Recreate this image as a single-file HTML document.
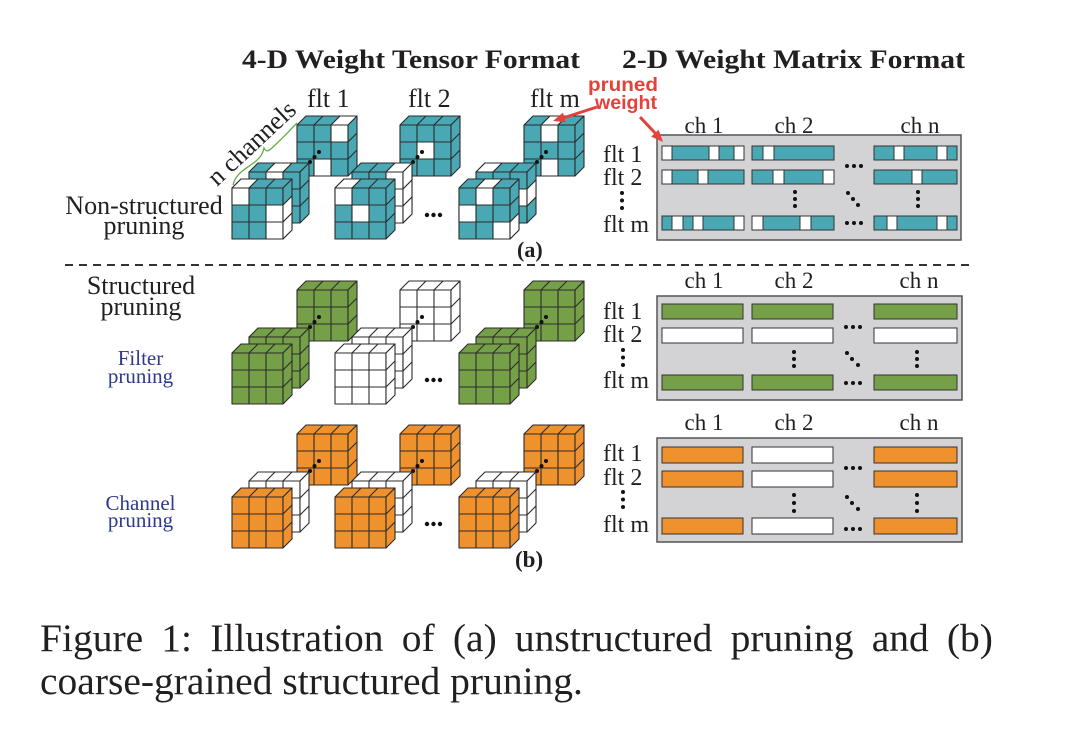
<!DOCTYPE html>
<html><head><meta charset="utf-8"><style>
body{margin:0;background:#fff}
svg{display:block}
.w rect,.w polygon{fill:#fff;stroke:#2b2b2b;stroke-width:1.1;stroke-linejoin:round}
.bar{stroke:#333;stroke-width:1}
.t{fill:#231f20}
</style></head><body>
<svg width="1072" height="734" viewBox="0 0 1072 734" xmlns="http://www.w3.org/2000/svg" font-family="'Liberation Serif', 'Times New Roman', serif">
<defs>
<g id="cb" stroke="#2b2b2b" stroke-width="1.1" stroke-linejoin="round">
<rect x="0" y="0" width="51" height="51"/>
<polygon points="0,0 51,0 60,-9 9,-9"/>
<polygon points="51,0 60,-9 60,42 51,51"/>
<path d="M17,0V51M34,0V51M0,17H51M0,34H51M17,0L26,-9M34,0L43,-9M51,17L60,8M51,34L60,25" fill="none"/>
</g>
</defs>

<!-- Titles -->
<text x="242" y="68" font-weight="bold" font-size="26" textLength="338" lengthAdjust="spacingAndGlyphs" class="t">4-D Weight Tensor Format</text>
<text x="622" y="68" font-weight="bold" font-size="26" textLength="343" lengthAdjust="spacingAndGlyphs" class="t">2-D Weight Matrix Format</text>

<!-- cube labels -->
<text x="307" y="107" font-size="26" class="t">flt 1</text>
<text x="408" y="107" font-size="26" class="t">flt 2</text>
<text x="530" y="107" font-size="26" class="t">flt m</text>

<!-- n channels -->
<text transform="translate(217,187) rotate(-43)" font-size="26" class="t">n channels</text>
<path d="M233,185 C236,172 248,168 256,161 C261,157 263,153 264,148 C266,152 268,152 273,147 C282,139 290,130 297,123" fill="none" stroke="#5fae45" stroke-width="1.3"/>

<!-- left labels -->
<text x="144" y="214" font-size="26" text-anchor="middle" class="t">Non-structured</text>
<text x="144" y="234" font-size="26" text-anchor="middle" class="t">pruning</text>
<text x="141" y="294" font-size="26" text-anchor="middle" class="t">Structured</text>
<text x="141" y="315" font-size="26" text-anchor="middle" class="t">pruning</text>
<text x="140.5" y="365" font-size="21" text-anchor="middle" fill="#2e3a8a">Filter</text>
<text x="140.5" y="383" font-size="21" text-anchor="middle" fill="#2e3a8a">pruning</text>
<text x="140.5" y="510" font-size="21" text-anchor="middle" fill="#2e3a8a">Channel</text>
<text x="140.5" y="527" font-size="21" text-anchor="middle" fill="#2e3a8a">pruning</text>

<!-- ===== (a) cubes ===== -->
<!-- flt1 -->
<use href="#cb" x="297" y="125" fill="#4aa8b4"/>
<g class="w" transform="translate(297,125)"><rect x="34" y="0" width="17" height="17"/><rect x="17" y="34" width="17" height="17"/><polygon points="34,0 51,0 60,-9 43,-9"/></g>
<g fill="#111"><circle cx="310" cy="162" r="2"/><circle cx="314.5" cy="157" r="2"/><circle cx="319" cy="152" r="2"/></g>
<use href="#cb" x="249" y="172" fill="#4aa8b4"/>
<g class="w" transform="translate(249,172)"><rect x="17" y="0" width="17" height="17"/><polygon points="17,0 34,0 43,-9 26,-9"/></g>
<use href="#cb" x="232" y="188" fill="#4aa8b4"/>
<g class="w" transform="translate(232,188)"><rect x="0" y="0" width="17" height="17"/><rect x="34" y="17" width="17" height="17"/><rect x="34" y="34" width="17" height="17"/><polygon points="0,0 17,0 26,-9 9,-9"/><polygon points="51,17 60,8 60,25 51,34"/><polygon points="51,34 60,25 60,42 51,51"/></g>

<!-- flt2 -->
<use href="#cb" x="400" y="125" fill="#4aa8b4"/>
<g class="w" transform="translate(400,125)"><rect x="17" y="17" width="17" height="17"/></g>
<g fill="#111"><circle cx="413" cy="162" r="2"/><circle cx="417.5" cy="157" r="2"/><circle cx="422" cy="152" r="2"/></g>
<use href="#cb" x="352" y="172" fill="#4aa8b4"/>
<g class="w" transform="translate(352,172)"><rect x="34" y="0" width="17" height="17"/><rect x="34" y="17" width="17" height="17"/><rect x="34" y="34" width="17" height="17"/><polygon points="34,0 51,0 60,-9 43,-9"/><polygon points="51,0 60,-9 60,8 51,17"/><polygon points="51,17 60,8 60,25 51,34"/><polygon points="51,34 60,25 60,42 51,51"/></g>
<use href="#cb" x="335" y="188" fill="#4aa8b4"/>
<g class="w" transform="translate(335,188)"><rect x="0" y="0" width="17" height="17"/><rect x="17" y="17" width="17" height="17"/><polygon points="0,0 17,0 26,-9 9,-9"/></g>

<!-- fltm -->
<use href="#cb" x="524" y="125" fill="#4aa8b4"/>
<g class="w" transform="translate(524,125)"><rect x="17" y="0" width="17" height="17"/><rect x="17" y="34" width="17" height="17"/><polygon points="17,0 34,0 43,-9 26,-9"/></g>
<g fill="#111"><circle cx="537" cy="162" r="2"/><circle cx="541.5" cy="157" r="2"/><circle cx="546" cy="152" r="2"/></g>
<use href="#cb" x="476" y="172" fill="#4aa8b4"/>
<g class="w" transform="translate(476,172)"><rect x="34" y="17" width="17" height="17"/><polygon points="0,0 17,0 26,-9 9,-9"/><polygon points="51,17 60,8 60,25 51,34"/></g>
<use href="#cb" x="459" y="188" fill="#4aa8b4"/>
<g class="w" transform="translate(459,188)"><rect x="17" y="0" width="17" height="17"/><rect x="0" y="17" width="17" height="17"/><rect x="34" y="34" width="17" height="17"/><polygon points="17,0 34,0 43,-9 26,-9"/><polygon points="51,34 60,25 60,42 51,51"/></g>

<g fill="#111"><circle cx="427" cy="215" r="2.2"/><circle cx="433.5" cy="215" r="2.2"/><circle cx="440" cy="215" r="2.2"/></g>

<!-- ===== green cubes ===== -->
<use href="#cb" x="297" y="290" fill="#76a048"/>
<g fill="#111"><circle cx="310" cy="327" r="2"/><circle cx="314.5" cy="322" r="2"/><circle cx="319" cy="317" r="2"/></g>
<use href="#cb" x="249" y="337" fill="#76a048"/>
<use href="#cb" x="232" y="353" fill="#76a048"/>

<use href="#cb" x="400" y="290" fill="#fff"/>
<g fill="#111"><circle cx="413" cy="327" r="2"/><circle cx="417.5" cy="322" r="2"/><circle cx="422" cy="317" r="2"/></g>
<use href="#cb" x="352" y="337" fill="#fff"/>
<use href="#cb" x="335" y="353" fill="#fff"/>

<use href="#cb" x="524" y="290" fill="#76a048"/>
<g fill="#111"><circle cx="537" cy="327" r="2"/><circle cx="541.5" cy="322" r="2"/><circle cx="546" cy="317" r="2"/></g>
<use href="#cb" x="476" y="337" fill="#76a048"/>
<use href="#cb" x="459" y="353" fill="#76a048"/>

<g fill="#111"><circle cx="427" cy="380" r="2.2"/><circle cx="433.5" cy="380" r="2.2"/><circle cx="440" cy="380" r="2.2"/></g>

<!-- ===== orange cubes ===== -->
<use href="#cb" x="297" y="434" fill="#ef922e"/>
<g fill="#111"><circle cx="310" cy="471" r="2"/><circle cx="314.5" cy="466" r="2"/><circle cx="319" cy="461" r="2"/></g>
<use href="#cb" x="249" y="481" fill="#fff"/>
<use href="#cb" x="232" y="497" fill="#ef922e"/>

<use href="#cb" x="400" y="434" fill="#ef922e"/>
<g fill="#111"><circle cx="413" cy="471" r="2"/><circle cx="417.5" cy="466" r="2"/><circle cx="422" cy="461" r="2"/></g>
<use href="#cb" x="352" y="481" fill="#fff"/>
<use href="#cb" x="335" y="497" fill="#ef922e"/>

<use href="#cb" x="524" y="434" fill="#ef922e"/>
<g fill="#111"><circle cx="537" cy="471" r="2"/><circle cx="541.5" cy="466" r="2"/><circle cx="546" cy="461" r="2"/></g>
<use href="#cb" x="476" y="481" fill="#fff"/>
<use href="#cb" x="459" y="497" fill="#ef922e"/>

<g fill="#111"><circle cx="427" cy="524" r="2.2"/><circle cx="433.5" cy="524" r="2.2"/><circle cx="440" cy="524" r="2.2"/></g>

<!-- (a) (b) labels -->
<text x="517" y="257" font-weight="bold" font-size="22" class="t">(a)</text>
<text x="515" y="567" font-weight="bold" font-size="23" class="t">(b)</text>

<!-- dashed line -->
<line x1="65" y1="265" x2="975" y2="265" stroke="#333" stroke-width="2" stroke-dasharray="8,6"/>

<!-- ===== Matrix (a) ===== -->
<text x="704" y="133" font-size="23" text-anchor="middle" class="t">ch 1</text>
<text x="794" y="133" font-size="23" text-anchor="middle" class="t">ch 2</text>
<text x="920" y="133" font-size="23" text-anchor="middle" class="t">ch n</text>
<text x="603" y="162" font-size="24" class="t">flt 1</text>
<text x="603" y="185" font-size="24" class="t">flt 2</text>
<text x="603" y="232" font-size="24" class="t">flt m</text>
<rect x="657" y="135" width="304" height="105" fill="#d3d3d5" stroke="#555" stroke-width="1.5"/>
<g class="bar" fill="#4aa8b4">
<rect x="662" y="146" width="82" height="14"/><rect x="752" y="146" width="82" height="14"/><rect x="874" y="146" width="83" height="14"/>
<rect x="662" y="170" width="82" height="14"/><rect x="752" y="170" width="82" height="14"/><rect x="874" y="170" width="83" height="14"/>
<rect x="662" y="216" width="82" height="14"/><rect x="752" y="216" width="82" height="14"/><rect x="874" y="216" width="83" height="14"/>
</g>
<g class="bar" fill="#fff">
<rect x="662" y="146" width="10" height="14"/><rect x="709" y="146" width="10" height="14"/><rect x="734" y="146" width="10" height="14"/>
<rect x="763" y="146" width="11" height="14"/>
<rect x="894" y="146" width="10" height="14"/><rect x="937" y="146" width="10" height="14"/>
<rect x="662" y="170" width="10" height="14"/><rect x="698" y="170" width="10" height="14"/>
<rect x="773" y="170" width="11" height="14"/><rect x="823" y="170" width="11" height="14"/>
<rect x="912" y="170" width="10" height="14"/>
<rect x="672" y="216" width="11" height="14"/><rect x="693" y="216" width="10" height="14"/><rect x="734" y="216" width="10" height="14"/>
<rect x="752" y="216" width="11" height="14"/><rect x="800" y="216" width="11" height="14"/>
<rect x="887" y="216" width="10" height="14"/><rect x="937" y="216" width="10" height="14"/>
</g>
<g fill="#111">
<circle cx="847" cy="166" r="2"/><circle cx="854" cy="166" r="2"/><circle cx="861" cy="166" r="2"/>
<circle cx="847" cy="223" r="2"/><circle cx="854" cy="223" r="2"/><circle cx="861" cy="223" r="2"/>
<circle cx="795" cy="192" r="2"/><circle cx="795" cy="199" r="2"/><circle cx="795" cy="206" r="2"/>
<circle cx="918" cy="192" r="2"/><circle cx="918" cy="199" r="2"/><circle cx="918" cy="206" r="2"/>
<circle cx="848" cy="193" r="2"/><circle cx="853" cy="199" r="2"/><circle cx="858" cy="205" r="2"/>
<circle cx="622" cy="193" r="2"/><circle cx="622" cy="200.5" r="2"/><circle cx="622" cy="208" r="2"/>
</g>

<!-- pruned weight -->
<text x="588" y="91" font-family="'Liberation Sans', Arial, sans-serif" font-weight="bold" font-size="19" fill="#e5413a" textLength="70" lengthAdjust="spacingAndGlyphs">pruned</text>
<text x="595" y="109" font-family="'Liberation Sans', Arial, sans-serif" font-weight="bold" font-size="19" fill="#e5413a" textLength="62" lengthAdjust="spacingAndGlyphs">weight</text>
<line x1="597" y1="107" x2="563" y2="118" stroke="#e5413a" stroke-width="3"/>
<polygon points="553,121 565.9,122.2 562.9,112.6" fill="#e5413a"/>
<line x1="640" y1="117" x2="656" y2="134" stroke="#e5413a" stroke-width="3"/>
<polygon points="663,142 651.2,136.6 658.6,129.8" fill="#e5413a"/>

<!-- ===== Matrix (b1) green ===== -->
<text x="704" y="288" font-size="23" text-anchor="middle" class="t">ch 1</text>
<text x="794" y="288" font-size="23" text-anchor="middle" class="t">ch 2</text>
<text x="919" y="288" font-size="23" text-anchor="middle" class="t">ch n</text>
<text x="603" y="319" font-size="24" class="t">flt 1</text>
<text x="603" y="342" font-size="24" class="t">flt 2</text>
<text x="603" y="388" font-size="24" class="t">flt m</text>
<rect x="657" y="296" width="305" height="104" fill="#d3d3d5" stroke="#555" stroke-width="1.5"/>
<g class="bar">
<rect x="662" y="304" width="81" height="15" fill="#76a048"/><rect x="752" y="304" width="81" height="15" fill="#76a048"/><rect x="874" y="304" width="83" height="15" fill="#76a048"/>
<rect x="662" y="328" width="81" height="15" fill="#fff"/><rect x="752" y="328" width="81" height="15" fill="#fff"/><rect x="874" y="328" width="83" height="15" fill="#fff"/>
<rect x="662" y="375" width="81" height="15" fill="#76a048"/><rect x="752" y="375" width="81" height="15" fill="#76a048"/><rect x="874" y="375" width="83" height="15" fill="#76a048"/>
</g>
<g fill="#111">
<circle cx="846" cy="327" r="2"/><circle cx="853" cy="327" r="2"/><circle cx="860" cy="327" r="2"/>
<circle cx="846" cy="383" r="2"/><circle cx="853" cy="383" r="2"/><circle cx="860" cy="383" r="2"/>
<circle cx="794" cy="352" r="2"/><circle cx="794" cy="359" r="2"/><circle cx="794" cy="366" r="2"/>
<circle cx="917" cy="352" r="2"/><circle cx="917" cy="359" r="2"/><circle cx="917" cy="366" r="2"/>
<circle cx="847" cy="353" r="2"/><circle cx="852" cy="359" r="2"/><circle cx="858" cy="365" r="2"/>
<circle cx="623" cy="350" r="2"/><circle cx="623" cy="357.5" r="2"/><circle cx="623" cy="365" r="2"/>
</g>

<!-- ===== Matrix (b2) orange ===== -->
<text x="704" y="430" font-size="23" text-anchor="middle" class="t">ch 1</text>
<text x="794" y="430" font-size="23" text-anchor="middle" class="t">ch 2</text>
<text x="919" y="430" font-size="23" text-anchor="middle" class="t">ch n</text>
<text x="603" y="461" font-size="24" class="t">flt 1</text>
<text x="603" y="485" font-size="24" class="t">flt 2</text>
<text x="603" y="532" font-size="24" class="t">flt m</text>
<rect x="657" y="438" width="305" height="104" fill="#d3d3d5" stroke="#555" stroke-width="1.5"/>
<g class="bar">
<rect x="662" y="447" width="81" height="16" fill="#ef922e"/><rect x="752" y="447" width="81" height="16" fill="#fff"/><rect x="874" y="447" width="83" height="16" fill="#ef922e"/>
<rect x="662" y="471" width="81" height="16" fill="#ef922e"/><rect x="752" y="471" width="81" height="16" fill="#fff"/><rect x="874" y="471" width="83" height="16" fill="#ef922e"/>
<rect x="662" y="518" width="81" height="16" fill="#ef922e"/><rect x="752" y="518" width="81" height="16" fill="#fff"/><rect x="874" y="518" width="83" height="16" fill="#ef922e"/>
</g>
<g fill="#111">
<circle cx="846" cy="468" r="2"/><circle cx="853" cy="468" r="2"/><circle cx="860" cy="468" r="2"/>
<circle cx="846" cy="529" r="2"/><circle cx="853" cy="529" r="2"/><circle cx="860" cy="529" r="2"/>
<circle cx="794" cy="495" r="2"/><circle cx="794" cy="503" r="2"/><circle cx="794" cy="511" r="2"/>
<circle cx="917" cy="495" r="2"/><circle cx="917" cy="503" r="2"/><circle cx="917" cy="511" r="2"/>
<circle cx="847" cy="497" r="2"/><circle cx="852" cy="503" r="2"/><circle cx="858" cy="509" r="2"/>
<circle cx="623" cy="492" r="2"/><circle cx="623" cy="499.5" r="2"/><circle cx="623" cy="507" r="2"/>
</g>

<!-- caption -->
<text y="651" font-size="39.5" class="t"><tspan x="40">Figure</tspan> <tspan x="161.3">1:</tspan> <tspan x="210.2">Illustration</tspan> <tspan x="401.8">of</tspan> <tspan x="452.9">(a)</tspan> <tspan x="514.9">unstructured</tspan> <tspan x="730.6">pruning</tspan> <tspan x="871.7">and</tspan> <tspan x="946.9">(b)</tspan></text>
<text x="40" y="694" font-size="39.5" class="t">coarse-grained structured pruning.</text>
</svg>
</body></html>
